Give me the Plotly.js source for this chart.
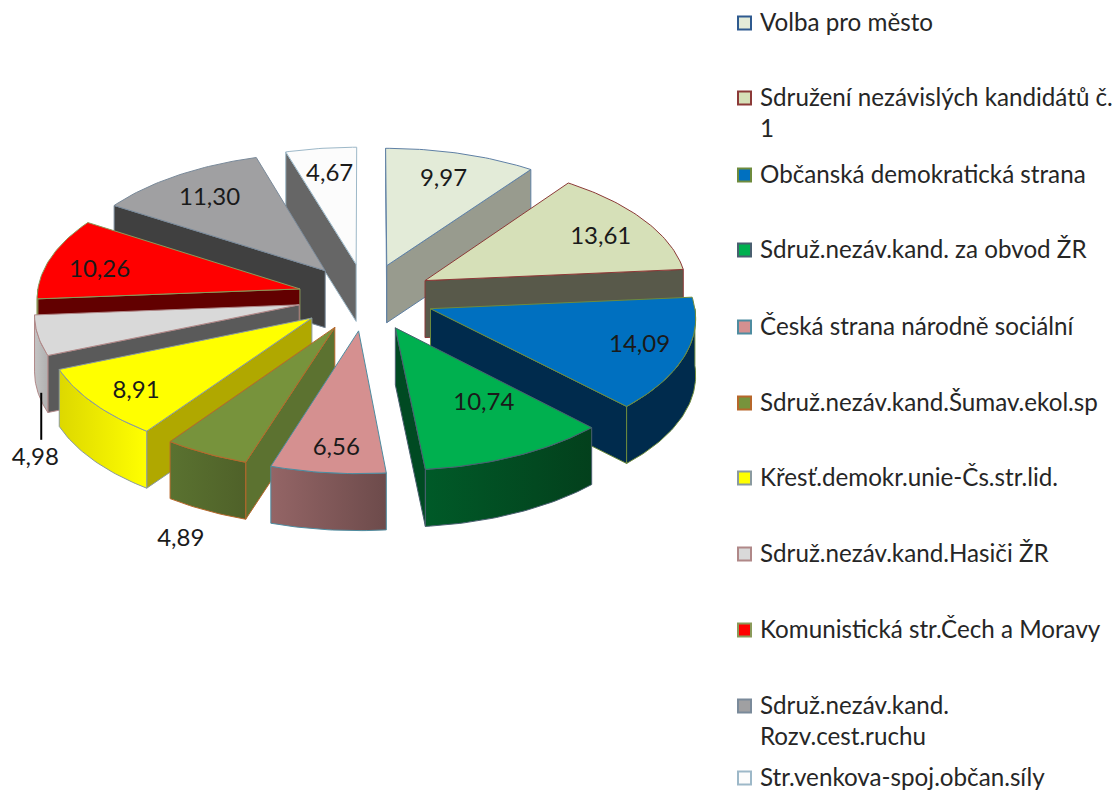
<!DOCTYPE html>
<html><head><meta charset="utf-8">
<script src="https://cdn.plot.ly/plotly-3.0.1.min.js"></script>
<style>html,body{margin:0;padding:0;background:#fff}#c{width:1117px;height:793px}</style>
</head><body><div id="c"></div>
<script>
const categories = ["Volba pro město","Sdružení nezávislých kandidátů č.<br>1","Občanská demokratická strana","Sdruž.nezáv.kand. za obvod ŽR","Česká strana národně sociální","Sdruž.nezáv.kand.Šumav.ekol.sp","Křesť.demokr.unie-Čs.str.lid.","Sdruž.nezáv.kand.Hasiči ŽR","Komunistická str.Čech a Moravy","Sdruž.nezáv.kand.<br>Rozv.cest.ruchu","Str.venkova-spoj.občan.síly"];
const values = [9.97,13.61,14.09,10.74,6.56,4.89,8.91,4.98,10.26,11.30,4.67];
const topColors = ["#E3EBD8","#D6E0B8","#0070C0","#00B04F","#D59090","#77933C","#FFFF00","#D9D9D9","#FF0000","#A0A0A2","#FCFCFC"];
const radialColors = ["#989B8E","#58594A","#002B4D","#004A22","#7A5455","#5C7230","#B0A800","#5A5A5A","#620000","#404040","#666666"];
const outerLeft = ["#989B8E","#58594A","#002B4D","#005A28","#946566","#5A7230","#DDD800","#C4C4C4","#620000","#404040","#666666"];
const outerRight = ["#989B8E","#58594A","#002B4D","#03401C","#6D4B4B","#4F6129","#FFFF00","#B0B0B0","#620000","#404040","#666666"];
const borderColors = ["#5F80A5","#8C3A38","#6E8B3D","#4A5F70","#4E8CA0","#B7672B","#8A9AA0","#B08888","#8A9A5A","#7A8A9A","#9DB8C8"];
const legendRows = [23,98,175,250,327,403,478,554,630,706,778];

// projection of the tilted, exploded disc onto the plot's axes
const CX=366, CY=297, R=263, TILT=0.49, PX=0.06, PY=0.065, EXPLODE=0.26, DEPTH=57;
const LABEL_FRACTION=[.78,.78,.82,.62,.8,.78,.78,.78,.78,.78,.77];
const LABEL_SHIFT={5:[-157,210],7:[-268,150]};
const LABEL_NUDGE=[[-2,3],[4,5],[1,0],[15,-1],[2,6],[3,3],[-7,8],[4,4],[-5,6],[1,3],[1,1]];
const LEGEND_BOX_X=744.5, LEGEND_TEXT_X=760;
const FONT='Lato, "Open Sans", sans-serif';

const rad=d=>d*Math.PI/180;
const total=values.reduce((a,b)=>a+b,0);
function proj(X,Y,z){return [CX+R*X/(1-PX*Y), CY+R*TILT*Y/(1-PY*Y)+z*DEPTH];}
function poly(pts,fill,line,grad){
  const t={type:'scatter',mode:'lines',x:pts.map(p=>p[0]),y:pts.map(p=>p[1]),fill:'toself',fillcolor:fill,
    line:{color:line,width:1},hoverinfo:'skip',showlegend:false};
  if(grad) t.fillgradient={type:'horizontal',colorscale:[[0,grad[0]],[1,grad[1]]]};
  return t;
}
let cum=0;
const slices=values.map((v,i)=>{const a=cum/total*360;cum+=v;const b=cum/total*360;return {i,a,b,m:(a+b)/2};});
const order=slices.slice().sort((p,q)=>Math.cos(rad(q.m))-Math.cos(rad(p.m)));
const traces=[], labX=[], labY=[], labT=[];
let leader=null;
order.forEach(S=>{
  const {i,a,b,m}=S;
  const ax=EXPLODE*Math.sin(rad(m)), ay=-EXPLODE*Math.cos(rad(m));
  const pt=(th,z)=>proj(ax+Math.sin(rad(th)),ay-Math.cos(rad(th)),z);
  const apex=z=>proj(ax,ay,z);
  const arcOf=(p,q,z)=>{const n=Math.max(4,Math.ceil(q-p)),o=[];for(let k=0;k<=n;k++)o.push(pt(p+(q-p)*k/n,z));return o;};
  const close=p=>p.concat([p[0]]);
  const A=apex(0), M=pt(m,0);
  const wallVisible=th=>{
    const P=pt(th,0), dx=P[0]-A[0];
    if(Math.abs(dx)<1) return false;
    const lineY=A[1]+(P[1]-A[1])*(M[0]-A[0])/dx;
    return M[1]<lineY;
  };
  [a,b].forEach(th=>{ if(wallVisible(th)) traces.push(poly(close([apex(0),pt(th,0),pt(th,1),apex(1)]),radialColors[i],borderColors[i])); });
  const fa=Math.max(a,90), fb=Math.min(b,270);
  if(fb>fa) traces.push(poly(close(arcOf(fa,fb,0).concat(arcOf(fa,fb,1).reverse())),outerLeft[i],borderColors[i],[outerLeft[i],outerRight[i]]));
  traces.push(poly(close([apex(0)].concat(arcOf(a,b,0))),topColors[i],borderColors[i]));
  let lp;
  if(LABEL_SHIFT[i]) lp=[A[0]+LABEL_SHIFT[i][0],A[1]+LABEL_SHIFT[i][1]];
  else { const f=LABEL_FRACTION[i]; lp=proj(ax+f*Math.sin(rad(m)),ay-f*Math.cos(rad(m)),0); }
  lp=[lp[0]+LABEL_NUDGE[i][0],lp[1]+LABEL_NUDGE[i][1]];
  labX.push(lp[0]);labY.push(lp[1]);labT.push(values[i].toFixed(2).replace('.',','));
  if(i===7) leader=[[lp[0]+6,lp[1]-19],[lp[0]+6,lp[1]-66]];
});
traces.push({type:'scatter',mode:'lines',x:leader.map(p=>p[0]),y:leader.map(p=>p[1]),line:{color:'#000',width:2},hoverinfo:'skip',showlegend:false});
traces.push({type:'scatter',mode:'text',x:labX,y:labY,text:labT,textposition:'middle center',
  textfont:{family:FONT,size:24,color:'#1a1a1a'},hoverinfo:'skip',showlegend:false});
traces.push({type:'scatter',mode:'markers',x:legendRows.map(()=>LEGEND_BOX_X),y:legendRows,
  marker:{symbol:'square',size:13,color:topColors,line:{color:borderColors.map((c,i)=>i===0?'#2F5A8F':c),width:2}},hoverinfo:'skip',showlegend:false});
const annotations=categories.map((c,i)=>({xref:'x',yref:'y',x:LEGEND_TEXT_X,y:legendRows[i]-18,text:c,showarrow:false,
  xanchor:'left',yanchor:'top',align:'left',xshift:-2,
  font:{family:FONT,size:24.2,color:'#262626'}}));
Plotly.newPlot('c',traces,{width:1117,height:793,margin:{l:0,r:0,t:0,b:0},paper_bgcolor:'#fff',plot_bgcolor:'#fff',
  xaxis:{range:[0,1117],visible:false,fixedrange:true},
  yaxis:{range:[793,0],visible:false,fixedrange:true},
  showlegend:false,annotations},{displayModeBar:false,staticPlot:true});
</script></body></html>
